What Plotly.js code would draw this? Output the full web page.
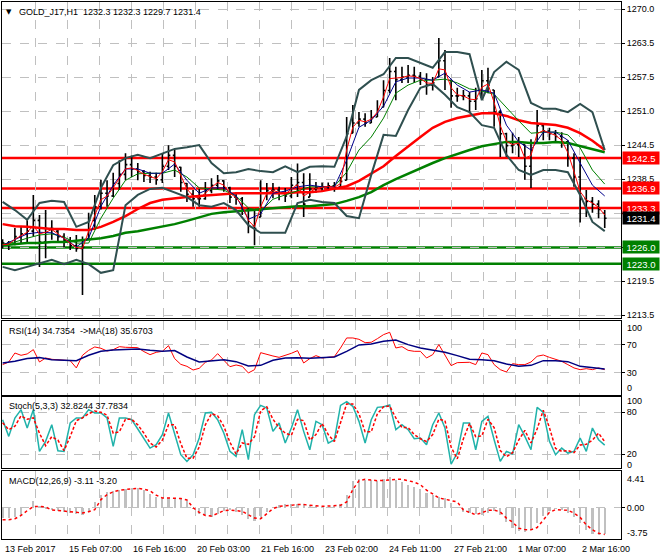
<!DOCTYPE html>
<html>
<head>
<meta charset="utf-8">
<script src="https://cdn.plot.ly/plotly-3.0.1.min.js"></script>
<style>
  html, body { margin: 0; padding: 0; background: #ffffff; }
  #chart { width: 660px; height: 560px; }
</style>
</head>
<body>
<div id="chart"></div>
<script>
// ---------- Price bars (one sample every ~3 H1 bars) ----------
const open = [
1226.2,1226.8,1226.6,1228.0,1228.5,1229.0,1231.0,1227.0,1229.5,1229.0,
1228.0,1227.3,1226.3,1225.8,1227.6,1231.0,1233.5,1236.0,1235.5,1237.8,
1239.5,1241.3,1240.5,1240.0,1239.3,1239.0,1238.5,1241.0,1243.0,1240.8,
1237.8,1235.8,1235.0,1235.0,1236.5,1237.5,1238.3,1237.0,1235.3,1235.0,
1233.0,1230.0,1231.6,1236.0,1236.5,1236.6,1236.0,1235.5,1237.5,1238.0,
1235.3,1236.8,1237.0,1237.2,1237.4,1237.2,1238.4,1247.1,1249.0,1249.7,
1249.0,1250.1,1251.9,1255.0,1258.5,1257.0,1257.5,1257.8,1257.6,1257.0,
1256.0,1257.5,1260.5,1256.9,1254.0,1254.0,1254.0,1253.0,1253.8,1256.8,
1255.1,1251.0,1247.0,1244.8,1245.0,1245.0,1241.0,1245.3,1248.5,1247.5,
1247.0,1246.5,1245.5,1242.5,1239.0,1235.0,1234.5,1234.0,1232.3];
const high = [
1227.5,1227.2,1229.6,1229.8,1231.0,1235.7,1232.0,1232.9,1231.0,1229.2,
1228.6,1227.9,1228.3,1228.0,1232.4,1235.7,1238.5,1238.4,1239.8,1242.1,
1243.4,1243.0,1241.6,1240.3,1240.0,1239.8,1243.4,1244.9,1244.0,1240.9,
1237.9,1236.6,1236.8,1238.1,1238.8,1239.4,1238.4,1237.2,1236.2,1235.3,
1233.3,1232.9,1238.4,1237.9,1237.9,1237.2,1237.0,1239.0,1241.5,1239.7,
1239.7,1238.1,1238.0,1238.0,1238.1,1239.0,1250.1,1252.3,1251.0,1250.8,
1251.4,1253.2,1256.9,1261.0,1259.4,1259.4,1259.7,1259.4,1258.4,1258.2,
1257.5,1264.7,1262.5,1256.9,1255.5,1255.1,1254.7,1255.5,1258.8,1259.2,
1255.1,1251.4,1247.2,1247.2,1246.4,1245.0,1246.0,1251.4,1249.0,1248.1,
1247.7,1247.3,1245.8,1243.4,1242.7,1236.6,1235.3,1234.7,1232.9];
const low = [
1225.8,1225.5,1226.4,1226.8,1227.0,1228.0,1222.4,1224.0,1227.4,1226.8,
1226.0,1225.5,1225.2,1217.2,1227.4,1229.2,1233.0,1233.5,1235.3,1236.6,
1238.4,1239.0,1238.4,1238.1,1237.9,1237.6,1237.9,1240.3,1239.0,1236.3,
1234.4,1233.5,1233.5,1234.8,1236.0,1236.6,1236.3,1234.2,1233.9,1232.0,
1228.6,1226.4,1231.6,1234.7,1235.1,1234.7,1234.4,1235.1,1235.3,1231.6,
1235.3,1236.1,1236.3,1236.8,1236.3,1237.2,1238.4,1247.1,1248.3,1248.3,
1249.0,1250.1,1251.9,1254.5,1253.2,1256.4,1256.4,1256.4,1256.0,1254.2,
1255.0,1257.5,1255.1,1251.8,1252.9,1253.2,1250.8,1251.4,1253.8,1254.5,
1248.3,1242.7,1242.7,1243.4,1242.7,1238.5,1237.0,1245.3,1245.8,1245.8,
1245.3,1244.4,1240.9,1237.2,1230.6,1231.6,1232.4,1231.4,1229.6];
const close = [
1226.8,1226.6,1228.0,1228.5,1229.0,1231.0,1227.0,1229.5,1229.5,1228.0,
1227.3,1226.3,1225.8,1226.0,1231.0,1233.5,1236.0,1235.5,1237.8,1239.5,
1241.3,1240.5,1240.0,1239.3,1239.0,1238.5,1241.0,1243.0,1241.0,1238.0,
1235.8,1235.0,1235.0,1236.5,1237.5,1238.3,1237.0,1235.3,1235.0,1233.0,
1230.0,1229.5,1236.0,1236.5,1236.6,1236.0,1235.5,1237.5,1238.0,1234.0,
1236.8,1237.0,1237.2,1237.4,1237.0,1238.2,1247.0,1249.0,1249.7,1249.0,
1250.0,1251.5,1255.0,1258.5,1257.0,1257.5,1257.8,1257.6,1257.0,1256.0,
1256.4,1260.5,1258.0,1254.0,1254.0,1254.0,1253.0,1253.5,1256.8,1256.0,
1251.0,1247.0,1244.8,1245.0,1245.5,1241.0,1244.0,1248.5,1247.5,1247.0,
1246.5,1245.5,1242.5,1239.0,1235.0,1234.5,1234.0,1233.0,1231.4];

// fast MA (thin red), same sampling as the bars
const maFast = [
1226.5,1226.6,1227.5,1228.2,1228.8,1230.0,1228.5,1228.8,1229.3,1228.5,
1227.6,1226.8,1226.0,1225.8,1229.0,1232.0,1234.8,1235.5,1237.0,1238.8,
1240.5,1240.7,1240.2,1239.5,1239.1,1238.7,1240.0,1242.2,1241.8,1239.2,
1236.8,1235.5,1235.1,1236.0,1237.1,1238.0,1237.5,1236.0,1235.2,1233.8,
1231.0,1229.8,1233.5,1236.0,1236.5,1236.2,1235.8,1236.8,1237.6,1235.5,
1236.2,1236.9,1237.1,1237.3,1237.1,1237.8,1244.0,1248.2,1249.5,1249.2,
1249.7,1251.0,1253.8,1257.2,1257.3,1257.4,1257.7,1257.6,1257.2,1256.4,
1256.3,1259.0,1258.8,1255.5,1254.2,1254.0,1253.4,1253.3,1255.6,1256.2,
1252.8,1248.5,1245.6,1245.0,1245.3,1242.5,1243.0,1247.0,1247.6,1247.2,
1246.7,1245.8,1243.5,1240.0,1236.3,1234.8,1234.2,1233.4,1232.0];

// ---------- Smooth lines (every second sample) ----------
const maMid = [
1226.4,1227.4,1228.5,1228.8,1228.7,1227.7,1226.1,1227.7,1233.6,1237.5,
1240.5,1240.5,1239.7,1239.7,1241.4,1238.4,1236.0,1237.0,1237.0,1235.5,
1231.2,1232.2,1236.0,1236.4,1237.2,1237.5,1237.2,1237.2,1242.1,1248.2,
1249.5,1252.1,1256.6,1257.3,1257.3,1256.9,1258.2,1256.0,1254.7,1255.1,
1254.5,1248.6,1245.5,1244.0,1247.3,1247.3,1245.8,1241.6,1237.5,1235.5];
const maSlow = [
1226.6,1227.0,1227.7,1228.3,1228.5,1227.9,1226.8,1226.8,1231.4,1235.1,
1238.4,1239.6,1239.7,1239.7,1240.3,1239.0,1237.0,1236.8,1236.6,1235.5,
1233.3,1232.7,1234.9,1235.7,1236.4,1237.2,1237.2,1237.3,1239.9,1244.0,
1246.4,1249.9,1254.5,1256.0,1256.9,1256.9,1257.1,1256.4,1255.3,1254.9,
1254.3,1251.8,1249.4,1247.1,1247.3,1247.3,1246.8,1244.4,1240.3,1237.7];
const bbUpper = [
1234.4,1232.9,1231.1,1234.2,1234.6,1234.4,1229.8,1230.7,1237.0,1241.2,
1242.5,1243.1,1242.5,1243.4,1244.2,1244.5,1244.9,1241.6,1239.7,1239.9,
1240.5,1240.1,1239.9,1241.0,1239.9,1240.9,1241.0,1240.9,1246.5,1255.1,
1256.9,1258.0,1261.0,1261.0,1260.1,1259.2,1262.1,1262.1,1261.7,1253.2,
1258.4,1260.3,1258.8,1252.7,1251.6,1251.6,1251.0,1252.5,1251.0,1244.0];
const bbLower = [
1222.4,1221.8,1222.4,1223.1,1223.7,1222.9,1223.7,1222.9,1221.3,1221.8,
1233.8,1235.7,1236.8,1237.0,1236.2,1235.3,1233.8,1233.5,1234.2,1232.9,
1230.1,1228.7,1228.7,1228.7,1234.2,1234.8,1234.4,1234.2,1231.8,1231.4,
1239.4,1246.8,1246.6,1251.4,1255.5,1256.2,1254.2,1251.9,1251.0,1248.6,
1248.1,1243.1,1240.3,1239.4,1240.3,1240.3,1239.9,1235.7,1230.7,1229.0];
const ma100 = [
1230.3,1229.9,1229.8,1229.6,1229.4,1229.4,1229.2,1229.2,1229.8,1230.7,
1231.8,1233.1,1234.2,1234.8,1235.1,1235.3,1235.5,1235.7,1235.9,1236.0,
1236.0,1236.0,1236.0,1236.0,1236.2,1236.2,1236.4,1236.8,1237.3,1238.3,
1239.6,1241.0,1242.9,1244.7,1246.4,1248.1,1249.2,1249.9,1250.3,1250.8,
1250.8,1250.3,1249.5,1249.0,1248.8,1248.6,1248.1,1247.1,1245.7,1244.0];
const ma200 = [
1226.4,1226.6,1226.8,1226.8,1227.0,1227.0,1227.2,1227.4,1227.7,1228.1,
1228.7,1229.0,1229.4,1229.9,1230.3,1230.9,1231.6,1232.2,1232.5,1232.7,
1232.9,1233.1,1233.3,1233.5,1233.6,1233.6,1233.8,1234.0,1234.6,1235.3,
1236.2,1237.5,1238.6,1239.6,1240.7,1241.6,1242.5,1243.3,1244.0,1244.7,
1245.1,1245.5,1245.5,1245.3,1245.3,1245.5,1245.3,1244.7,1244.2,1243.6];

// ---------- Horizontal levels ----------
const redLevels = [1242.5, 1236.9, 1233.3];
const greenLevels = [1226.0, 1223.0];
const lastPrice = 1231.4;

// ---------- RSI ----------
const rsi = [
41.8,45.5,58.2,55.0,56.9,63.0,45.5,51.2,49.3,48.8,
48.8,47.4,37.1,55.0,62.0,66.8,64.9,61.1,63.0,67.2,
66.3,66.3,65.8,60.2,55.9,59.2,60.6,68.6,50.3,42.2,
39.4,34.2,36.6,45.1,48.4,57.3,48.4,38.9,41.3,39.4,
30.0,34.7,58.7,55.9,54.0,52.1,54.5,57.8,61.6,44.1,
50.3,54.5,51.2,52.6,53.1,65.3,79.5,79.5,77.6,72.9,
73.4,78.5,84.2,87.5,65.3,67.2,62.0,60.6,60.6,51.2,
55.9,70.1,55.9,40.4,44.6,45.1,45.1,41.8,58.3,55.9,
41.8,34.7,31.4,43.2,41.8,41.8,45.5,53.6,55.4,52.1,
48.8,46.5,41.8,37.1,34.7,36.1,34.7,37.1,34.7];
const rsiMa = [
44.1,46.5,50.3,51.7,48.8,48.4,47.4,55.0,60.6,62.5,
63.5,63.9,62.0,60.6,61.6,52.6,45.5,47.0,48.8,46.0,
39.9,40.8,47.9,51.2,51.7,50.7,51.7,52.6,60.6,69.6,
71.0,74.8,76.7,70.1,65.3,62.5,59.2,54.5,49.3,48.8,
47.4,42.7,39.4,40.8,47.4,47.4,46.0,39.4,37.1,35.7];

// ---------- Stochastic ----------
const stochK = [
69.4,45.4,71.8,83.8,57.4,83.8,23.8,38.2,62.2,24.8,
23.8,64.6,71.8,71.8,83.8,79.0,79.0,71.8,31.0,71.8,
71.8,69.4,56.0,43.0,28.6,33.4,47.8,79.0,50.2,19.0,
9.4,19.0,43.0,79.0,79.9,69.4,50.2,23.8,16.6,55.0,
11.9,76.6,90.0,86.2,52.6,64.6,35.8,57.4,83.8,52.6,
26.2,67.0,62.2,35.8,40.6,90.0,95.3,88.6,67.0,35.8,
69.4,87.1,88.1,90.5,55.0,62.2,55.0,42.1,43.0,33.4,
62.2,79.0,57.4,5.6,21.4,64.6,64.6,26.2,67.0,74.2,
40.6,9.4,23.8,20.0,62.2,45.4,26.2,87.1,79.9,38.2,
19.0,28.6,21.4,23.8,43.0,23.8,57.4,40.6,32.8];
const stochD = [
65,55,60,75,70,72,50,32,45,40,
25,45,68,72,78,82,80,76,50,52,
70,70,62,50,36,30,40,62,62,35,
14,14,30,62,78,75,60,37,20,36,
34,45,82,88,70,58,50,47,70,68,
40,48,64,48,38,66,92,92,78,52,
52,78,88,89,72,58,58,48,42,38,
48,70,68,30,13,42,64,45,46,70,
58,25,16,22,40,54,36,56,83,58,
28,24,25,22,33,34,40,50,37.8];

// ---------- MACD ----------
const macd = [
-1.26,-1.26,-1.14,-0.86,-0.05,0.76,0.27,-0.17,-0.25,-0.34,
-0.46,-0.62,-0.74,-0.82,-0.46,0.67,1.56,1.89,2.05,2.17,
2.29,2.33,2.33,2.13,1.60,1.28,1.16,1.16,1.16,1.00,
0.76,-0.17,-0.70,-0.90,-1.06,-0.74,-0.34,-0.29,-0.46,-0.86,
-1.39,-1.59,-1.39,-0.46,0.11,0.31,0.43,0.51,0.51,0.43,
0.31,0.23,0.15,0.15,0.23,0.43,1.56,3.26,3.46,3.38,
3.30,3.26,3.50,3.66,3.38,3.06,2.78,2.49,2.21,1.81,
1.48,1.32,1.16,0.55,0.03,-0.50,-0.66,-0.78,-0.82,-0.58,
-0.34,-0.86,-1.75,-2.48,-2.80,-2.88,-2.52,-1.87,-0.94,-0.34,
-0.13,-0.21,-0.58,-1.06,-1.83,-2.68,-3.16,-3.28,-3.11];
const macdSignal = [
-1.44,-1.44,-1.32,-0.92,-0.35,0.13,0.17,0.09,-0.27,-0.31,
-0.39,-0.47,-0.55,-0.63,-0.47,-0.23,0.98,1.58,1.91,2.11,
2.19,2.23,2.32,2.23,2.03,1.51,1.18,1.18,1.18,1.10,
0.94,0.01,-0.55,-0.92,-1.00,-0.72,-0.35,-0.27,-0.35,-0.43,
-0.84,-1.24,-1.32,-0.76,-0.11,0.17,0.25,0.34,0.38,0.38,
0.29,0.21,0.17,0.21,0.29,0.29,0.70,2.19,3.24,3.41,
3.33,3.24,3.28,3.37,3.41,3.41,3.28,3.08,2.76,2.11,
1.67,1.18,1.02,0.90,0.70,-0.27,-0.55,-0.84,-0.59,-0.31,
-0.27,-0.51,-1.24,-1.72,-2.45,-2.61,-2.65,-2.37,-1.48,-0.55,
-0.23,-0.23,-0.31,-0.63,-1.16,-2.05,-2.65,-3.05,-3.20];

// ---------- Axis labels ----------
const firstDateLabel = "13 Feb 2017";
const timeLabels = ["15 Feb 07:00","16 Feb 16:00","20 Feb 03:00","21 Feb 16:00",
  "23 Feb 02:00","24 Feb 11:00","27 Feb 21:00","1 Mar 07:00","2 Mar 16:00"];
const priceTickVals = [1213.5,1219.78,1226.06,1232.33,1238.61,1244.89,1251.17,1257.44,1263.72,1270.0];
const priceTickText = ["1213.5","1219.5","","","1238.5","1244.5","1251.0","1257.5","1263.5","1270.0"];

// ---------- build ----------
const FONT = "Liberation Sans, Arial, sans-serif";
const xs = close.map((_, i) => i);          // sample index
const xc = bbUpper.map((_, i) => 2 * i);    // coarse sample index
const gridX = [];                           // vertical grid every 16.5 bars
for (let j = 0; j < 18; j++) gridX.push(5.273 + 5.215 * j);

function line(x, y, color, width, ax, dash) {
  return { type: 'scatter', mode: 'lines', x: x, y: y, xaxis: ax[0], yaxis: ax[1],
    line: { color: color, width: width, dash: dash || 'solid' }, hoverinfo: 'skip' };
}
const M = ['x', 'y'], R = ['x2', 'y2'], S = ['x3', 'y3'], D = ['x4', 'y4'];

const traces = [
  { type: 'ohlc', x: xs, open: open, high: high, low: low, close: close,
    xaxis: 'x', yaxis: 'y', tickwidth: 0.3,
    increasing: { line: { color: '#000000', width: 1.6 } },
    decreasing: { line: { color: '#000000', width: 1.6 } }, hoverinfo: 'skip' },
  line(xc, ma200, '#008000', 2.5, M),
  line(xc, ma100, '#FF0000', 2.5, M),
  line(xc, bbUpper, '#2F4F4F', 2, M),
  line(xc, bbLower, '#2F4F4F', 2, M),
  line(xc, maSlow, '#008000', 1, M),
  line(xc, maMid, '#00008B', 1, M),
  line(xs, maFast, '#FF0000', 1, M),
  line(xs, rsi, '#FF0000', 1, R),
  line(xc, rsiMa, '#000080', 1.5, R),
  line(xs, stochK, '#20B2AA', 1.5, S),
  line(xs, stochD, '#FF0000', 1.5, S, '3px,2px'),
  { type: 'bar', x: xs, y: macd, xaxis: 'x4', yaxis: 'y4', width: 0.35,
    marker: { color: '#C0C0C0', line: { width: 0 } }, hoverinfo: 'skip' },
  line(xs, macdSignal, '#FF0000', 1.5, D, 'dot')
];

const shapes = [];
redLevels.forEach(v => shapes.push({ type: 'line', xref: 'paper', x0: 0, x1: 1, yref: 'y', y0: v, y1: v,
  line: { color: '#FF0000', width: 2.5 }, layer: 'below' }));
greenLevels.forEach(v => shapes.push({ type: 'line', xref: 'paper', x0: 0, x1: 1, yref: 'y', y0: v, y1: v,
  line: { color: '#008000', width: 2.5 }, layer: 'below' }));
shapes.push({ type: 'line', xref: 'paper', x0: 0, x1: 1, yref: 'y', y0: lastPrice, y1: lastPrice,
  line: { color: '#C0C0C0', width: 1 }, layer: 'below' });

const ann = [];
function box(v, bg) {
  ann.push({ xref: 'paper', x: 1, xanchor: 'left', xshift: 1, yref: 'y', y: v, yanchor: 'middle',
    text: v.toFixed(1), showarrow: false, bgcolor: bg, width: 36, height: 12, borderpad: 0,
    font: { family: FONT, size: 9.5, color: '#FFFFFF' } });
}
redLevels.forEach(v => box(v, '#FF0000'));
box(lastPrice, '#000000');
greenLevels.forEach(v => box(v, '#008000'));

function txt(text, xref, x, yref, y, opts) {
  ann.push(Object.assign({ xref: xref, x: x, yref: yref, y: y, text: text, showarrow: false,
    xanchor: 'left', yanchor: 'middle', font: { family: FONT, size: 9, color: '#000000' } }, opts || {}));
}
// panel titles
txt('▼', 'paper', 0, 'paper', 1, { xshift: 2, yanchor: 'top', yshift: -4, font: { family: 'DejaVu Sans', size: 7, color: '#000' } });
txt('GOLD_J17,H1&nbsp;&nbsp;1232.3 1232.3 1229.7 1231.4', 'paper', 0, 'paper', 1, { xshift: 15, yanchor: 'top', yshift: -3 });
txt('RSI(14) 34.7354&nbsp;&nbsp;->MA(18) 35.6703', 'paper', 0, 'paper', 0.4060, { xshift: 5, yanchor: 'top', yshift: -3 });
txt('Stoch(5,3,3) 32.8244 37.7834', 'paper', 0, 'paper', 0.2644, { xshift: 5, yanchor: 'top', yshift: -2 });
txt('MACD(12,26,9) -3.11 -3.20', 'paper', 0, 'paper', 0.1266, { xshift: 5, yanchor: 'top', yshift: -3 });
// right-hand scale extremes of sub windows
txt('100', 'paper', 1, 'y2', 100, { xshift: 4, yshift: -5 });
txt('0', 'paper', 1, 'y2', 0, { xshift: 4, yshift: 6 });
txt('100', 'paper', 1, 'y3', 100, { xshift: 4, yshift: -3 });
txt('0', 'paper', 1, 'y3', 0, { xshift: 4, yshift: 3 });
txt('4.41', 'paper', 1, 'y4', 4.41, { xshift: 4, yshift: -8 });
txt('-3.75', 'paper', 1, 'y4', -3.75, { xshift: 4, yshift: 6 });
// time labels
txt(firstDateLabel, 'x', 0, 'paper', 0, { xshift: 0, yshift: -10 });
timeLabels.forEach((t, i) => txt(t, 'x', gridX[2 * i + 1], 'paper', 0, { xshift: 0, yshift: -10 }));

const xBase = { range: [-0.1, 100.65], tickmode: 'array', tickvals: gridX, showticklabels: false,
  ticks: '', showgrid: true, gridcolor: '#C0C0C0', griddash: 'dash', gridwidth: 1,
  showline: true, mirror: true, linecolor: '#000000', linewidth: 1, zeroline: false, fixedrange: true };
function yBase(extra) {
  return Object.assign({ side: 'right', ticks: 'outside', ticklen: 3, tickcolor: '#000000',
    showgrid: true, gridcolor: '#C0C0C0', griddash: 'dash', gridwidth: 1, showline: true, mirror: true,
    linecolor: '#000000', linewidth: 1, zeroline: false, fixedrange: true, tickmode: 'array',
    tickfont: { family: FONT, size: 9, color: '#000000' } }, extra);
}

const layout = {
  width: 660, height: 560, margin: { l: 2, r: 39, t: 2, b: 21 },
  paper_bgcolor: '#FFFFFF', plot_bgcolor: '#FFFFFF', showlegend: false, hovermode: false,
  bargap: 0,
  xaxis: Object.assign({}, xBase, { anchor: 'y', rangeslider: { visible: false } }),
  xaxis2: Object.assign({}, xBase, { anchor: 'y2', matches: 'x' }),
  xaxis3: Object.assign({}, xBase, { anchor: 'y3', matches: 'x' }),
  xaxis4: Object.assign({}, xBase, { anchor: 'y4', matches: 'x' }),
  yaxis: yBase({ domain: [0.4115, 1], range: [1212.95, 1271.35], tickvals: priceTickVals, ticktext: priceTickText }),
  yaxis2: yBase({ domain: [0.2682, 0.4060], range: [-1.1, 103.5], tickvals: [30, 70], ticktext: ['30', '70'] }),
  yaxis3: yBase({ domain: [0.1322, 0.2644], range: [-0.1, 102], tickvals: [20, 80], ticktext: ['20', '80'] }),
  yaxis4: yBase({ domain: [0, 0.1266], range: [-3.75, 4.41], tickvals: [0], ticktext: ['0.00'] }),
  shapes: shapes, annotations: ann
};

Plotly.newPlot('chart', traces, layout, { staticPlot: true, displayModeBar: false });
</script>
</body>
</html>
